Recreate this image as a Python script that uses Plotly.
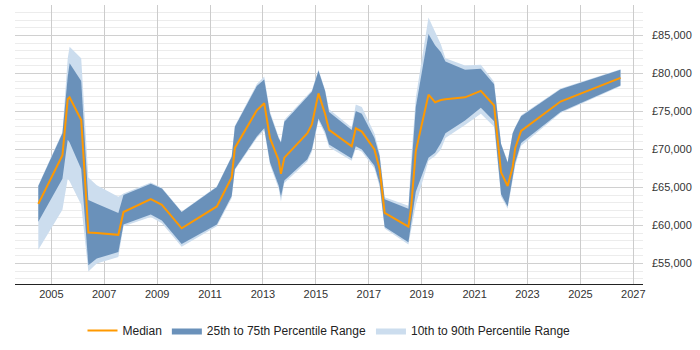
import plotly.graph_objects as go

dates = [
    "2004-07-05", "2005-06-03", "2005-08-15", "2005-09-10", "2006-02-17",
    "2006-05-27", "2006-09-20", "2007-07-15", "2007-09-24", "2008-10-05",
    "2009-03-07", "2009-12-05", "2011-04-05", "2011-10-27", "2011-12-10",
    "2012-10-08", "2013-01-18", "2013-04-08", "2013-08-04", "2013-09-06",
    "2013-10-23", "2014-09-06", "2014-11-07", "2015-02-06", "2015-05-08",
    "2015-07-02", "2016-05-10", "2016-07-05", "2016-09-27", "2017-03-20",
    "2017-05-30", "2017-08-08", "2018-07-02", "2018-08-08", "2018-10-12",
    "2019-04-05", "2019-07-05", "2019-09-24", "2019-11-25", "2020-08-22",
    "2021-03-28", "2021-09-27", "2022-01-01", "2022-04-02", "2022-06-10",
    "2022-07-16", "2022-10-05", "2024-04-01", "2026-07-08",
]

p10 = [
    56800, 62070, 66140, 65800, 62710,
    53930, 55000, 55860, 59900, 61100,
    60300, 57200, 59900, 63600, 67300,
    71500, 72500, 68000, 64900, 63140,
    65600, 68400, 69700, 73800, 72000,
    70300, 68500, 70100, 69700, 67500,
    65100, 59600, 57500, 59500, 62710,
    68500, 69140, 70000, 71490, 73200,
    74700, 73000, 63800, 62200, 65700,
    67900, 70500, 74800, 78300,
]

p25 = [
    60490, 66140, 71290, 70900, 67430,
    54780, 55640, 56500, 60140, 61430,
    60660, 57570, 60140, 63870, 67430,
    71710, 72780, 68280, 65280, 63780,
    65930, 68710, 70000, 74060, 72350,
    70640, 68800, 70420, 70000, 67850,
    65500, 59800, 57790, 60000, 64420,
    68920, 69570, 70850, 72130, 73800,
    75500, 73700, 64090, 62500, 66000,
    68280, 70850, 74920, 78400,
]

median = [
    62840, 69230, 76630, 76850, 73860,
    59070, 59000, 58770, 61770, 63480,
    62710, 59630, 62500, 66350, 70200,
    75140, 76080, 71490, 68620, 66790,
    68920, 72130, 73290, 77370, 74700,
    72570, 70420, 72780, 72350, 70000,
    67430, 61650, 59850, 62300, 69780,
    77200, 76210, 76500, 76600, 76850,
    77710, 75780, 66990, 65190, 67640,
    70200, 72440, 76300, 79420,
]

p75 = [
    65190, 72130, 79560, 81350, 79000,
    63350, 62870, 61650, 64000, 65500,
    64860, 61770, 65060, 69050, 73000,
    78360, 79200, 74700, 71500, 70900,
    73640, 76900, 77600, 80360, 77710,
    74920, 72570, 75050, 74700, 71490,
    69140, 63440, 62200, 67000, 75570,
    85200, 83700, 82800, 81560, 80490,
    80620, 78560, 70700, 68280, 72100,
    72900, 74370, 77920, 80490,
]

p90 = [
    65300, 72300, 82000, 83500, 82000,
    66300, 65280, 63780, 64200, 65650,
    64950, 61850, 65150, 69150, 73100,
    78600, 79600, 75000, 71700, 71000,
    73900, 77100, 77800, 80500, 77900,
    75300, 72900, 75910, 75570, 72100,
    69500, 63700, 62600, 68500, 76800,
    87350, 85420, 83800, 82000, 81050,
    81130, 78900, 70800, 68400, 72200,
    73000, 74500, 78000, 80550,
]

LIGHT = "rgb(204,221,238)"
DARK = "rgb(106,145,186)"
ORANGE = "#FF9900"
FONT = "Liberation Sans, Arial, sans-serif"

fig = go.Figure()
fig.add_trace(go.Scatter(x=dates, y=p10, mode="lines", line=dict(width=0),
                         showlegend=False, hoverinfo="skip"))
fig.add_trace(go.Scatter(x=dates, y=p90, mode="lines", line=dict(width=0),
                         fill="tonexty", fillcolor=LIGHT,
                         name="10th to 90th Percentile Range", legendrank=3))
fig.add_trace(go.Scatter(x=dates, y=p25, mode="lines", line=dict(width=0),
                         showlegend=False, hoverinfo="skip"))
fig.add_trace(go.Scatter(x=dates, y=p75, mode="lines", line=dict(width=0),
                         fill="tonexty", fillcolor=DARK,
                         name="25th to 75th Percentile Range", legendrank=2))
fig.add_trace(go.Scatter(x=dates, y=median, mode="lines",
                         line=dict(color=ORANGE, width=2),
                         name="Median", legendrank=1))

fig.update_layout(
    width=700, height=350,
    margin=dict(l=15, r=57, t=5, b=58),
    paper_bgcolor="white", plot_bgcolor="white",
    font=dict(family=FONT, size=11, color="#333333"),
    legend=dict(orientation="h", x=0.5, xanchor="center", y=-0.115, yanchor="top",
                traceorder="normal",
                font=dict(size=12, color="#222222"), itemwidth=30),
    xaxis=dict(
        type="date",
        range=["2003-08-18", "2027-05-15"],
        tick0="2005-01-01", dtick="M24", tickformat="%Y",
        showgrid=True, gridcolor="#cccccc", gridwidth=1,
        showline=True, linecolor="#222222", linewidth=1,
        ticks="", zeroline=False,
        tickfont=dict(size=11, color="#333333"),
    ),
    yaxis=dict(
        side="right",
        range=[52300, 89000],
        dtick=5000, tick0=0,
        tickprefix="£", tickformat=",d",
        showgrid=True, gridcolor="#d0d0d0", gridwidth=1,
        minor=dict(dtick=1000, showgrid=True, gridcolor="#ececec", gridwidth=1),
        showline=False, zeroline=False,
        ticks="", ticklabelstandoff=8,
        tickfont=dict(size=11, color="#333333"),
    ),
)

fig.write_html("out.html")
